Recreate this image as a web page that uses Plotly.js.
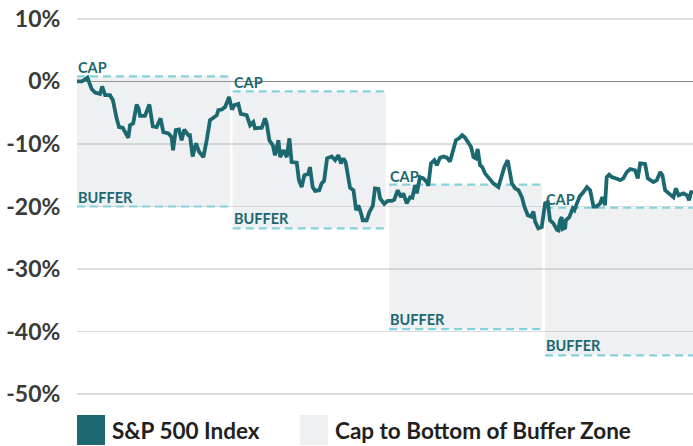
<!DOCTYPE html>
<html>
<head>
<meta charset="utf-8">
<script src="https://cdn.plot.ly/plotly-3.0.1.min.js"></script>
<style>
html,body{margin:0;padding:0;background:#fff;}
#chart{width:693px;height:446px;}
</style>
</head>
<body>
<div id="chart"></div>
<script>
// ---- data (trading day index, cumulative % return of S&P 500) ----
const day = [0,1.9,3.3,4.3,5.3,6.0,7.4,9.4,10.3,11.5,13.5,14.7,16.2,17.2,18.7,19.6,21.0,21.7,23.0,24.4,25.2,25.8,27.8,29.6,31.0,32.6,34.2,35.3,37.4,38.7,39.3,40.4,41.7,42.8,43.9,45.5,46.2,47.3,48.7,50.0,51.7,53.1,54.4,55.8,57.2,57.8,59.2,60.6,62.2,63.4,64.4,66.0,67.0,69.4,70.8,72.1,72.8,75.6,76.9,77.6,78.7,80.1,81.0,82.4,83.1,84.4,85.8,86.9,87.8,89.9,90.8,91.9,93.0,94.6,95.3,96.4,97.4,99.1,100.1,101.1,102.3,104.2,105.6,106.9,108.0,109.0,109.9,111.7,113.1,114.2,115.1,116.2,116.9,118.5,119.6,121.0,121.9,123.3,124.0,125.7,127.1,128.8,129.8,131.2,132.6,133.5,134.9,136.3,137.2,138.3,139.0,140.3,141.7,143.1,143.7,144.8,146.2,147.2,148.5,149.9,151.3,152.6,153.6,155.0,156.3,157.6,158.8,160.1,161.2,162.2,163.1,163.9,164.9,165.8,166.9,168.6,170.3,172.4,173.5,174.8,176.2,177.2,177.9,179.2,180.6,182.0,183.0,184.4,185.8,186.7,187.4,188.7,190.1,191.5,192.6,193.5,194.9,196.3,196.9,197.6,198.3,198.6,199.7,200.0,201.4,202.8,203.5,204.5,205.8,207.2,208.6,209.9,210.6,211.3,212.6,214.0,214.9,216.0,216.7,217.7,218.8,219.8,221.1,222.2,223.5,224.9,226.3,228.3,229.4,230.4,232.4,233.5,234.9,235.8,237.2,238.6,239.5,240.6,242.7,244.0,245.0,246.1,248.1,249.5,250.4,251.2,252.0];
const sp500 = [0,0,0.3,0.6,-0.5,-1.2,-1.8,-2.0,-0.8,-2.2,-2.2,-3.0,-5.9,-7.3,-7.4,-8.0,-9.0,-7.0,-6.7,-3.7,-4.3,-5.5,-5.5,-3.7,-7.2,-7.3,-5.9,-8.1,-8.3,-8.9,-11.0,-7.8,-7.7,-9.4,-7.7,-8.6,-8.6,-12.0,-9.9,-11.3,-12.1,-9.3,-6.2,-5.8,-5.4,-4.6,-4.5,-4.1,-2.5,-4.5,-3.8,-3.6,-5.2,-5.4,-7.0,-6.5,-7.5,-7.4,-5.9,-6.7,-9.4,-10.2,-11.8,-9.4,-12.1,-11.0,-12.1,-9.1,-12.9,-13.0,-15.8,-16.9,-15.0,-14.8,-13.7,-16.9,-17.5,-17.4,-16.3,-15.9,-12.3,-12.0,-12.6,-11.8,-13.1,-12.3,-12.9,-17.0,-17.4,-20.6,-19.8,-21.1,-22.2,-22.2,-20.9,-19.9,-17.1,-17.2,-18.7,-19.6,-19.1,-19.1,-18.9,-17.4,-18.5,-17.9,-19.5,-18.5,-18.6,-16.6,-17.9,-15.3,-15.5,-16.1,-16.7,-13.1,-12.6,-13.4,-12.2,-12.0,-12.2,-12.8,-11.3,-9.4,-9.1,-8.6,-9.0,-9.7,-10.5,-12.1,-12.3,-10.8,-13.4,-13.7,-14.7,-15.5,-16.3,-16.9,-15.3,-13.7,-12.6,-14.7,-16.3,-17.1,-17.4,-18.5,-20.0,-21.4,-21.6,-20.8,-22.4,-23.5,-23.3,-19.5,-19.3,-22.2,-22.7,-23.7,-23.8,-22.2,-21.7,-23.6,-23.4,-22.2,-21.7,-20.3,-20.6,-19.5,-18.3,-17.7,-16.9,-17.4,-18.5,-20.0,-20.0,-19.5,-18.5,-19.8,-15.3,-14.9,-15.3,-15.5,-15.6,-15.8,-15.5,-14.5,-14.0,-14.2,-15.5,-13.1,-13.2,-15.5,-15.8,-16.1,-15.8,-14.5,-15.0,-17.4,-18.1,-18.5,-17.1,-18.2,-17.9,-18.2,-19.0,-17.7,-17.7];

// outcome periods
const zoneStart = [0, 63.7, 127.7, 191.5];
const zoneEnd = [62.6, 126.3, 190.1, 252];
const capLevel = [0.8, -1.6, -16.5, -20.2];
const bufferLevel = [-20.0, -23.5, -39.6, -43.8];
const capLabel = 'CAP';
const bufferLabel = 'BUFFER';

const yTickVals = [10, 0, -10, -20, -30, -40, -50];
const yTickText = ['10%', '0%', '-10%', '-20%', '-30%', '-40%', '-50%'];

const legendNames = ['S&P 500 Index', 'Cap to Bottom of Buffer Zone'];

// ---- styles ----
const TEAL = '#1b6870';
const DASH = '#86d2da';
const ZONE_FILL = 'rgba(175,180,190,0.2)';
const ZONE_SOLID = '#eff0f2';
const FONT = 'Lato, "Open Sans", sans-serif';

const traces = [];
for (let i = 0; i < zoneStart.length; i++) {
  const s = zoneStart[i], e = zoneEnd[i], c = capLevel[i], b = bufferLevel[i];
  traces.push({
    x: [s, e, e, s, s], y: [c, c, b, b, c], mode: 'lines', fill: 'toself',
    fillcolor: ZONE_FILL, line: {width: 0}, hoverinfo: 'skip', showlegend: false
  });
}
for (let i = 0; i < zoneStart.length; i++) {
  const s = zoneStart[i], e = zoneEnd[i];
  [capLevel[i], bufferLevel[i]].forEach(v => {
    traces.push({
      x: [s, e], y: [v, v], mode: 'lines',
      line: {color: DASH, width: 2.2, dash: '8px,5px'},
      hoverinfo: 'skip', showlegend: false
    });
  });
}
traces.push({
  x: day, y: sp500, mode: 'lines', name: legendNames[0],
  line: {color: TEAL, width: 3.8, shape: 'linear'}, showlegend: false
});

const annotations = [];
for (let i = 0; i < zoneStart.length; i++) {
  annotations.push({
    x: zoneStart[i], y: capLevel[i], xref: 'x', yref: 'y', text: capLabel,
    showarrow: false, xanchor: 'left', yanchor: 'bottom', borderpad: 0, yshift: -1,
    font: {family: FONT, size: 14.5, color: TEAL, weight: 'bold'}
  });
  annotations.push({
    x: zoneStart[i], y: bufferLevel[i], xref: 'x', yref: 'y', text: bufferLabel,
    showarrow: false, xanchor: 'left', yanchor: 'bottom', borderpad: 0, yshift: 0,
    font: {family: FONT, size: 14.5, color: TEAL, weight: 'bold'}
  });
}

// legend (drawn in paper space under the plot)
const W = 693, H = 446, ML = 77, MR = 0, MT = 16.6, MB = 50;
const pw = W - ML - MR, ph = H - MT - MB;
const px = v => (v - ML) / pw;
const py = v => (H - MB - v) / ph;
const shapes = [
  {type: 'rect', xref: 'paper', yref: 'paper', x0: px(77), x1: px(105), y0: py(445), y1: py(415),
   fillcolor: TEAL, line: {width: 0}},
  {type: 'rect', xref: 'paper', yref: 'paper', x0: px(300), x1: px(328), y0: py(445), y1: py(415),
   fillcolor: ZONE_SOLID, line: {width: 0}}
];
annotations.push({
  xref: 'paper', yref: 'paper', x: px(110), y: py(431), text: legendNames[0],
  showarrow: false, xanchor: 'left', yanchor: 'middle',
  font: {family: FONT, size: 22.5, color: '#231f20', weight: 'bold'}
});
annotations.push({
  xref: 'paper', yref: 'paper', x: px(333), y: py(431), text: legendNames[1],
  showarrow: false, xanchor: 'left', yanchor: 'middle',
  font: {family: FONT, size: 22.5, color: '#231f20', weight: 'bold'}
});

const layout = {
  width: W, height: H,
  margin: {l: ML, r: MR, t: MT, b: MB, pad: 0},
  paper_bgcolor: '#ffffff', plot_bgcolor: '#ffffff',
  showlegend: false,
  xaxis: {range: [0, 252], visible: false, fixedrange: true},
  yaxis: {
    range: [-50.3, 10.3], tickmode: 'array', tickvals: yTickVals, ticktext: yTickText,
    showgrid: true, gridcolor: '#dcdcdc', gridwidth: 1.6,
    zeroline: true, zerolinecolor: '#8c8c8c', zerolinewidth: 1.3,
    ticks: 'outside', ticklen: 11, tickcolor: 'rgba(0,0,0,0)',
    showline: false, fixedrange: true,
    tickfont: {family: FONT, size: 23, color: '#3a3a3a', weight: 'bold'}
  },
  shapes: shapes,
  annotations: annotations
};

Plotly.newPlot('chart', traces, layout, {displayModeBar: false, staticPlot: true});
</script>
</body>
</html>
